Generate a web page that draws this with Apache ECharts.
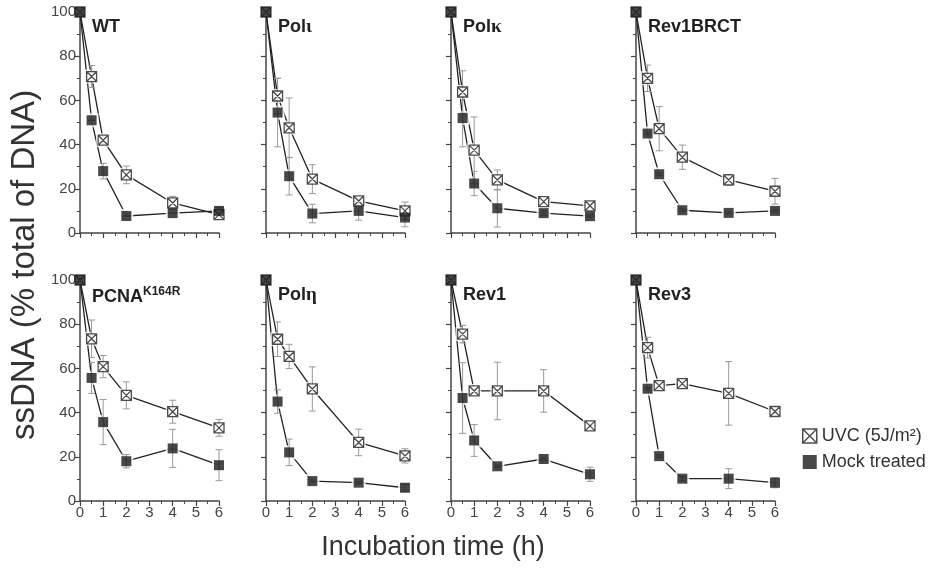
<!DOCTYPE html>
<html>
<head>
<meta charset="utf-8">
<script src="https://cdn.jsdelivr.net/npm/echarts@6/dist/echarts.min.js"></script>
<style>html,body{margin:0;padding:0;background:#fff}#c{width:936px;height:577px}</style>
</head>
<body>
<div id="c"></div>
<script>
// ---- data ----
const times = [0, 0.5, 1, 2, 4, 6];
const panelNames = ['WT', 'Polι', 'Polκ', 'Rev1BRCT', 'PCNAK164R', 'Polη', 'Rev1', 'Rev3'];
const xTicks = [0, 1, 2, 3, 4, 5, 6];
const yTicks = [0, 20, 40, 60, 80, 100];
const seriesNames = ['UVC (5J/m²)', 'Mock treated'];

const uvcWT = [100, 70.8, 42, 26.3, 13.6, 8.3];
const uvcWTErr = [0, 5, 1.5, 4, 3, 2];
const mockWT = [100, 51, 28, 7.7, 9, 10];
const mockWTErr = [0, 0, 3.5, 0, 0, 1.5];

const uvcPolI = [100, 62, 47.6, 24.4, 14.5, 10];
const uvcPolIErr = [0, 8, 13.5, 6.5, 1.5, 4];
const mockPolI = [100, 54.5, 25.7, 8.8, 10, 7];
const mockPolIErr = [0, 15.5, 8.5, 4.2, 4.2, 4.2];

const uvcPolK = [100, 63.8, 37.5, 24, 14.2, 12.3];
const uvcPolKErr = [0, 9.6, 15, 4.5, 1, 1.5];
const mockPolK = [100, 52, 22.4, 11.2, 9, 7.6];
const mockPolKErr = [0, 13, 5.5, 8.5, 1, 0.5];

const uvcBRCT = [100, 70, 47.2, 34.3, 24, 18.9];
const uvcBRCTErr = [0, 6, 10, 5.5, 2.5, 5.8];
const mockBRCT = [100, 45, 26.6, 10.3, 9.1, 10];
const mockBRCTErr = [0, 0.5, 0.5, 0.5, 0.5, 0.5];

const uvcPCNA = [100, 73.4, 60.8, 47.8, 40.4, 33.1];
const uvcPCNAErr = [0, 8.5, 5, 6.1, 5.2, 3.8];
const mockPCNA = [100, 55.7, 35.7, 18, 23.8, 16.2];
const mockPCNAErr = [0, 7, 10.2, 3, 8.6, 7];

const uvcPolH = [100, 73.2, 65.4, 50.7, 26.5, 20.4];
const uvcPolHErr = [0, 7.8, 5.5, 10, 6, 3.2];
const mockPolH = [100, 45, 22, 9, 8.3, 6];
const mockPolHErr = [0, 5.3, 6, 0.5, 0.5, 1.5];

const uvcRev1 = [100, 75.5, 49.8, 49.8, 49.8, 34];
const uvcRev1Err = [0, 4, 1, 13, 9.6, 0.5];
const mockRev1 = [100, 46.6, 27.4, 15.7, 19, 12.1];
const mockRev1Err = [0, 16, 7.2, 0.5, 0.5, 3.2];

const uvcRev3 = [100, 69.4, 52.2, 53.1, 48.7, 40.5];
const uvcRev3Err = [0, 4.7, 1, 1, 14.4, 1];
const mockRev3 = [100, 50.8, 20.3, 10.1, 10.1, 8.3];
const mockRev3Err = [0, 0.5, 0.5, 1, 4.5, 2.3];

const uvcAll = [uvcWT, uvcPolI, uvcPolK, uvcBRCT, uvcPCNA, uvcPolH, uvcRev1, uvcRev3];
const uvcErrAll = [uvcWTErr, uvcPolIErr, uvcPolKErr, uvcBRCTErr, uvcPCNAErr, uvcPolHErr, uvcRev1Err, uvcRev3Err];
const mockAll = [mockWT, mockPolI, mockPolK, mockBRCT, mockPCNA, mockPolH, mockRev1, mockRev3];
const mockErrAll = [mockWTErr, mockPolIErr, mockPolKErr, mockBRCTErr, mockPCNAErr, mockPolHErr, mockRev1Err, mockRev3Err];

// ---- layout ----
const colLefts = [80, 266, 451, 636];
const rowTops = [12, 280];
const gW = 139, gH = 221;
const FONT = 'Liberation Sans, Arial, sans-serif';
const AX = '#444';
const uvcPath = 'path://M0,0L10,0L10,10L0,10Z M0,0L10,10 M10,0L0,10';

const titleRich = {
  b: {fontFamily: FONT, fontWeight: 'bold', fontSize: 18, color: '#222'},
  g: {fontFamily: 'Liberation Serif, serif', fontSize: 19, color: '#222'},
  s: {fontFamily: FONT, fontWeight: 'bold', fontSize: 12, color: '#222', padding: [0, 0, 10, 0]}
};
const titleTexts = ['{b|WT}', '{b|Pol}{g|ι}', '{b|Pol}{g|κ}', '{b|Rev1BRCT}', '{b|PCNA}{s|K164R}', '{b|Pol}{g|η}', '{b|Rev1}', '{b|Rev3}'];

const grids = [], xAxes = [], yAxes = [], series = [], titles = [];

function errRender(params, api) {
  const x = api.value(0), y = api.value(1), e = api.value(2);
  const t = api.coord([x, y + e]);
  const b = api.coord([x, y - e]);
  const st = {stroke: '#999', lineWidth: 1};
  return {type: 'group', children: [
    {type: 'line', shape: {x1: t[0], y1: t[1], x2: b[0], y2: b[1]}, style: st},
    {type: 'line', shape: {x1: t[0] - 3.5, y1: t[1], x2: t[0] + 3.5, y2: t[1]}, style: st},
    {type: 'line', shape: {x1: b[0] - 3.5, y1: b[1], x2: b[0] + 3.5, y2: b[1]}, style: st}
  ]};
}

panelNames.forEach((nm, i) => {
  const row = i >= 4 ? 1 : 0, col = i % 4;
  grids.push({left: colLefts[col], top: rowTops[row], width: gW, height: gH});
  xAxes.push({
    type: 'value', gridIndex: i, min: 0, max: 6, interval: 1,
    axisLine: {lineStyle: {color: AX, width: 1.5}},
    axisTick: {length: 5, lineStyle: {color: AX, width: 1.2}},
    minorTick: {show: true, splitNumber: 2, length: 3, lineStyle: {color: AX, width: 1}},
    splitLine: {show: false},
    axisLabel: {show: row === 1, fontSize: 15, fontFamily: FONT, color: AX, margin: 4,
      customValues: xTicks}
  });
  yAxes.push({
    type: 'value', gridIndex: i, min: 0, max: 100, interval: 20,
    axisLine: {show: true, lineStyle: {color: AX, width: 1.5}},
    axisTick: {show: true, length: 5, lineStyle: {color: AX, width: 1.2}},
    minorTick: {show: true, splitNumber: 2, length: 3, lineStyle: {color: AX, width: 1}},
    splitLine: {show: false},
    axisLabel: {show: col === 0, fontSize: 15, fontFamily: FONT, color: AX, margin: 4,
      customValues: yTicks}
  });
  titles.push({text: titleTexts[i], left: colLefts[col] + 12, top: rowTops[row] + 6, padding: 0,
    textStyle: {rich: titleRich}});

  const uvc = uvcAll[i], mock = mockAll[i];
  const uvcPts = times.map((t, j) => [t, uvc[j]]);
  const mockPts = times.map((t, j) => [t, mock[j]]);
  const common = {xAxisIndex: i, yAxisIndex: i, silent: true, clip: false, animation: false};
  series.push(Object.assign({type: 'line', name: 'uvcLine' + i, data: uvcPts, showSymbol: false,
    lineStyle: {color: '#222', width: 1.3}, z: 2}, common));
  series.push(Object.assign({type: 'line', name: 'mockLine' + i, data: mockPts, showSymbol: false,
    lineStyle: {color: '#222', width: 1.3}, z: 2}, common));
  series.push(Object.assign({type: 'scatter', name: 'halo' + i,
    data: uvcPts.concat(mockPts).filter(p => p[0] > 0),
    symbol: 'rect', symbolSize: 14, itemStyle: {color: '#fff'}, z: 3}, common));
  series.push(Object.assign({type: 'custom', name: 'err' + i, renderItem: errRender,
    encode: {x: 0, y: 1},
    data: times.map((t, j) => [t, uvc[j], uvcErrAll[i][j]]).concat(times.map((t, j) => [t, mock[j], mockErrAll[i][j]])),
    z: 4}, common));
  series.push(Object.assign({type: 'scatter', name: seriesNames[0], data: uvcPts,
    symbol: uvcPath, symbolSize: 10, itemStyle: {color: '#fff', borderColor: '#222', borderWidth: 1.3}, z: 5}, common));
  series.push(Object.assign({type: 'scatter', name: seriesNames[1], data: mockPts,
    symbol: 'rect', symbolSize: 10, itemStyle: {color: '#1a1a1a'}, z: 6}, common));
});

const chart = echarts.init(document.getElementById('c'), null, {renderer: 'canvas'});
chart.setOption({
  backgroundColor: '#fff',
  animation: false,
  title: titles,
  grid: grids,
  xAxis: xAxes,
  yAxis: yAxes,
  legend: {
    orient: 'vertical', left: 797, top: 422, itemWidth: 14, itemHeight: 14, itemGap: 8,
    selectedMode: false,
    textStyle: {fontSize: 18, fontFamily: FONT, color: '#333'},
    data: [
      {name: seriesNames[0], icon: uvcPath, itemStyle: {color: '#fff', borderColor: '#222', borderWidth: 1.5}},
      {name: seriesNames[1], icon: 'rect', itemStyle: {color: '#1a1a1a'}}
    ]
  },
  graphic: [
    {type: 'text', x: 433, y: 548,
      style: {text: 'Incubation time (h)', font: '27px Liberation Sans, Arial, sans-serif', fill: '#333', align: 'center', verticalAlign: 'middle'}},
    {type: 'text', x: 25, y: 265, rotation: Math.PI / 2,
      style: {text: 'ssDNA (% total of DNA)', font: '33px Liberation Sans, Arial, sans-serif', fill: '#333', align: 'center', verticalAlign: 'middle'}}
  ],
  series: series
});
</script>
</body>
</html>
